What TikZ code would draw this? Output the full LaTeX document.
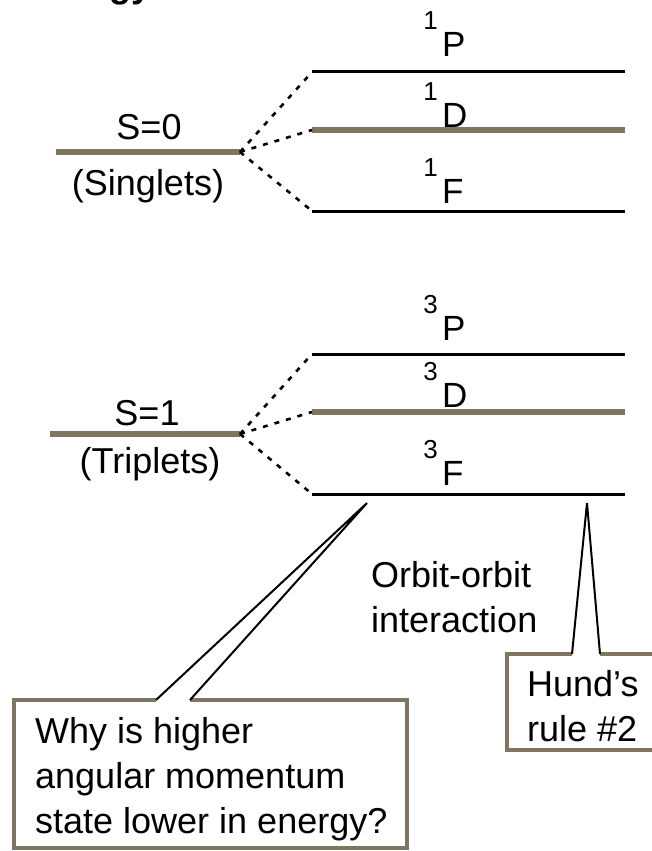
\documentclass[tikz,border=0pt]{standalone}
\usepackage{fontspec}
\setmainfont{Liberation Sans}
\usepackage{xcolor}
\definecolor{cLevel}{HTML}{7F7560}
\usepackage{tikz}
\tikzset{
  level-thin/.style={draw=black,line width=3pt},
  level-thick/.style={draw=cLevel,line width=6pt},
  split-dash/.style={draw=black,line width=2.6pt,dash pattern=on 5pt off 7pt},
  callout-frame/.style={draw=cLevel,line width=4.5pt},
  callout-ptr/.style={draw=black,line width=2pt},
  text-label/.style={inner sep=0pt,font=\fontsize{36}{45}\selectfont},
  term-letter/.style={inner sep=0pt,font=\fontsize{35}{40}\selectfont},
  term-mult/.style={inner sep=0pt,font=\fontsize{26}{30}\selectfont},
}

\begin{document}
\begin{tikzpicture}[x=1pt,y=-1pt]
  \useasboundingbox (0,0) rectangle (652,851);
  \clip (0,0) rectangle (652,851);
  \node[anchor=base east,inner sep=0pt,font=\bfseries\fontsize{36}{40}\selectfont] (title) at (152,-2) {Energy};

  % spin groups
  \coordinate (s0-w) at (56,152);  \coordinate (s0-e) at (240,152);
  \coordinate (s1-w) at (50,434);  \coordinate (s1-e) at (240,434);
  \draw[level-thick] (s0-w) -- (s0-e);
  \draw[level-thick] (s1-w) -- (s1-e);
  \node[text-label,anchor=base] (s0) at (149,139) {S=0};
  \node[text-label,anchor=base] (sing) at (148,195) {(Singlets)};
  \node[text-label,anchor=base] (s1) at (147,425) {S=1};
  \node[text-label,anchor=base] (trip) at (150,473) {(Triplets)};

  % terms
  \foreach \name/\y/\sty in {1P/72/level-thin,1D/130/level-thick,1F/211/level-thin,
      3P/354/level-thin,3D/412/level-thick,3F/494/level-thin}{
    \coordinate (\name-w) at (312,\y);
    \coordinate (\name-e) at (625,\y);
    \draw[\sty] (\name-w) -- (\name-e);
  }
  \foreach \src/\dst in {s0/1P,s0/1D,s0/1F,s1/3P,s1/3D,s1/3F}
    \draw[split-dash] (\src-e) -- (\dst-w);
  \foreach \name/\m/\L/\base in {1P/1/P/57,1D/1/D/127,1F/1/F/203,
      3P/3/P/340,3D/3/D/407,3F/3/F/485}{
    \node[term-letter,anchor=base west] (\name-lbl) at (442,\base) {\L};
    \node[term-mult,anchor=base east] (\name-mult) at (438,\base-27) {\m};
  }

  % callouts
  \coordinate (why-tip) at (367,503);
  \coordinate (why-gl) at (156,700); \coordinate (why-gr) at (190,700);
  \draw[callout-frame] (why-gl) -| (14,848) -| (407,700) -- (why-gr);
  \draw[callout-ptr] (why-gl) -- (why-tip) -- (why-gr);
  \node[text-label,anchor=north west,align=left] (why) at (35,717)
    {Why is higher\\angular momentum\\state lower in energy?};

  \coordinate (hund-tip) at (587,503);
  \coordinate (hund-gl) at (572,654); \coordinate (hund-gr) at (600,654);
  \draw[callout-frame] (hund-gl) -| (507,750) -- (680,750);
  \draw[callout-frame] (hund-gr) -- (680,654);
  \draw[callout-ptr] (hund-gl) -- (hund-tip) -- (hund-gr);
  \node[text-label,anchor=north west,align=left] (hund) at (527,670) {Hund's\\rule \#2};

  \node[text-label,anchor=north west,align=left] (orbit) at (371,561) {Orbit-orbit\\interaction};
\end{tikzpicture}
\end{document}
